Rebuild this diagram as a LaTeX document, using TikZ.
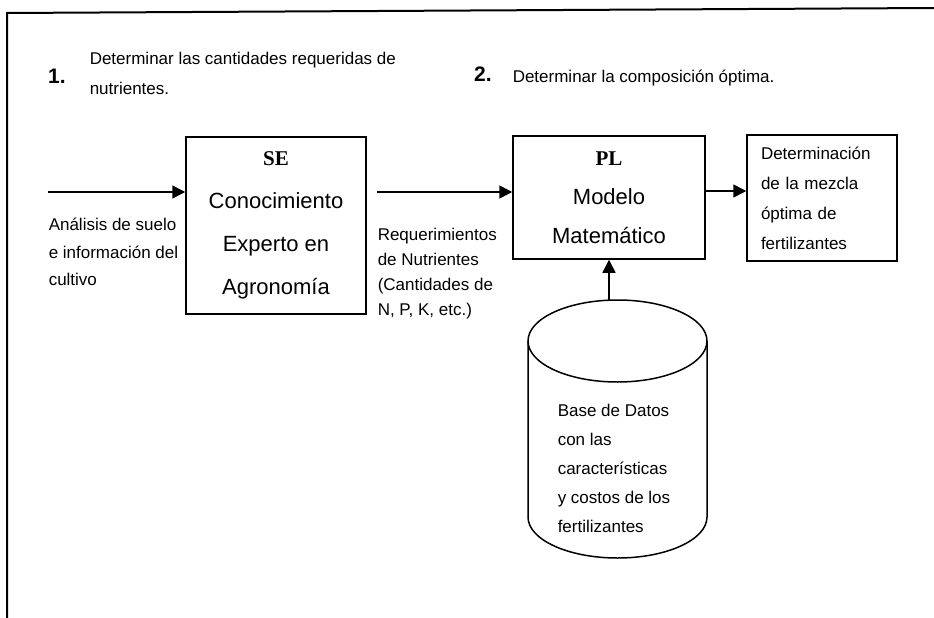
\documentclass[tikz,border=0pt]{standalone}
\usepackage{fontspec}
\setmainfont{Liberation Sans}
\newfontfamily\serifbf{Liberation Serif}
\usetikzlibrary{arrows.meta}

\begin{document}
\begin{tikzpicture}[x=1pt, y=-1pt, line width=1.5pt,
  box/.style={draw, rectangle, inner sep=0pt, align=center,
    font=\fontsize{22}{43}\selectfont},
  arr/.style={-{Triangle[length=13pt, width=13pt]}},
  lbl/.style={anchor=north west, inner sep=0pt, align=left},
  num/.style={inner sep=0pt, font=\fontsize{21}{21}\selectfont\bfseries}]
  \useasboundingbox (0,0) rectangle (934,618);
  % 边框
  \draw[line width=2pt] (934,8) -- (7,13) -- (7,618);
  % 步骤
  \node[num] (n1) at (57,76) {1.};
  \node[lbl, font=\fontsize{17}{30}\selectfont] (t1) at (89,51)
    {Determinar las cantidades requeridas de\\nutrientes.};
  \node[num] (n2) at (483,74) {2.};
  \node[lbl, font=\fontsize{17}{30}\selectfont] (t2) at (512,69)
    {Determinar la composición óptima.};
  % 方框
  \node[box, minimum width=180pt, minimum height=177pt] (se) at (276,225.5)
    {{\serifbf\bfseries\fontsize{21}{21}\selectfont SE}\\Conocimiento\\Experto en\\Agronomía};
  \node[box, font=\fontsize{22}{39}\selectfont, minimum width=192pt,
    minimum height=123pt] (pl) at (609,197.5)
    {{\serifbf\bfseries\fontsize{21}{21}\selectfont PL}\\Modelo\\Matemático};
  \node[box, font=\fontsize{17}{30}\selectfont, align=left, text width=122pt,
    minimum width=150pt, minimum height=126pt] (res) at (822,198)
    {Determinación\\de la mezcla\\óptima de\\fertilizantes};
  % 数据库 (圆柱)
  \coordinate (db) at (617.5,300);
  \draw (528,341) -- (528,517) arc[start angle=180, end angle=0,
    x radius=89.5, y radius=41] -- (707,341);
  \draw (617.5,341) ellipse [x radius=89.5, y radius=41];
  \node[lbl, font=\fontsize{17}{29}\selectfont] (dbtxt) at (557,403)
    {Base de Datos\\con las\\características\\y costos de los\\fertilizantes};
  % 标注
  \node[lbl, font=\fontsize{17}{27.5}\selectfont] (soil) at (48,217.5)
    {Análisis de suelo\\e información del\\cultivo};
  \node[lbl, font=\fontsize{17}{25}\selectfont] (req) at (377,227)
    {Requerimientos\\de Nutrientes\\(Cantidades de\\N, P, K, etc.)};
  % 箭头
  \coordinate (in) at (48,192);
  \coordinate (reqin) at (377,192);
  \draw[arr] (in) -- (in -| se.west);
  \draw[arr] (reqin) -- (reqin -| pl.west);
  \draw[arr] ([yshift=6.5pt]pl.east) -- ([yshift=6.5pt]pl.east -| res.west);
  \draw[arr] (pl.south |- db) -- (pl.south);
\end{tikzpicture}
\end{document}
